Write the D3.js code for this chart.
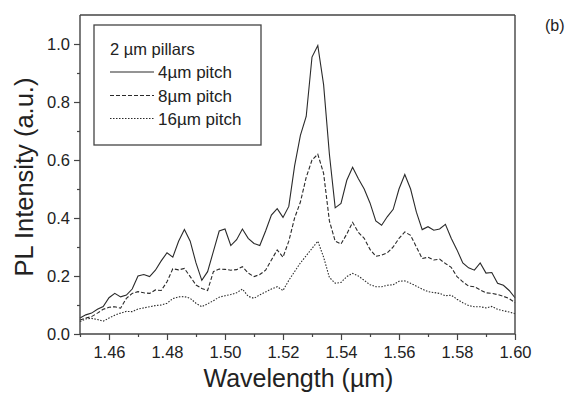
<!DOCTYPE html>
<html>
<head>
<meta charset="utf-8">
<script src="https://cdn.jsdelivr.net/npm/d3@7"></script>
<style>
  html, body { margin: 0; padding: 0; background: #fff; }
  svg { display: block; font-family: "Liberation Sans", Arial, sans-serif; }
</style>
</head>
<body>
<svg id="chart" width="567" height="398"></svg>
<script>
const wavelengths = d3.range(76).map(i => +(1.45 + i * 0.002).toFixed(3));

const pitch4 = [
  0.055, 0.066, 0.072, 0.085, 0.095, 0.125, 0.140, 0.128, 0.134, 0.155,
  0.200, 0.205, 0.198, 0.220, 0.252, 0.280, 0.265, 0.320, 0.360, 0.320,
  0.245, 0.185, 0.215, 0.285, 0.355, 0.362, 0.305, 0.325, 0.362, 0.330,
  0.312, 0.305, 0.355, 0.410, 0.432, 0.402, 0.440, 0.580, 0.685, 0.750,
  0.955, 0.995, 0.860, 0.620, 0.435, 0.450, 0.530, 0.575, 0.535, 0.500,
  0.452, 0.390, 0.375, 0.405, 0.430, 0.500, 0.550, 0.500, 0.420, 0.360,
  0.370, 0.358, 0.362, 0.378, 0.330, 0.290, 0.245, 0.228, 0.220, 0.245,
  0.210, 0.212, 0.175, 0.168, 0.150, 0.125
];

const pitch8 = [
  0.048, 0.055, 0.060, 0.072, 0.085, 0.092, 0.094, 0.089, 0.123, 0.140,
  0.146, 0.142, 0.140, 0.152, 0.150, 0.180, 0.225, 0.221, 0.226, 0.198,
  0.169, 0.157, 0.150, 0.215, 0.224, 0.223, 0.220, 0.222, 0.232, 0.210,
  0.198, 0.205, 0.220, 0.255, 0.290, 0.265, 0.320, 0.400, 0.455, 0.540,
  0.600, 0.620, 0.554, 0.390, 0.320, 0.310, 0.345, 0.385, 0.350, 0.330,
  0.292, 0.268, 0.272, 0.280, 0.300, 0.330, 0.352, 0.340, 0.300, 0.260,
  0.265, 0.255, 0.258, 0.243, 0.230, 0.198, 0.180, 0.165, 0.163, 0.152,
  0.142, 0.140, 0.136, 0.130, 0.122, 0.108
];

const pitch16 = [
  0.043, 0.052, 0.054, 0.050, 0.044, 0.055, 0.065, 0.072, 0.078, 0.077,
  0.086, 0.090, 0.094, 0.098, 0.100, 0.106, 0.122, 0.128, 0.129, 0.123,
  0.106, 0.094, 0.104, 0.115, 0.127, 0.132, 0.136, 0.142, 0.155, 0.130,
  0.123, 0.135, 0.145, 0.155, 0.163, 0.150, 0.185, 0.215, 0.245, 0.270,
  0.295, 0.320, 0.265, 0.195, 0.175, 0.178, 0.198, 0.209, 0.200, 0.185,
  0.170, 0.163, 0.163, 0.168, 0.170, 0.182, 0.183, 0.175, 0.165, 0.155,
  0.146, 0.143, 0.140, 0.132, 0.134, 0.120, 0.108, 0.098, 0.094, 0.094,
  0.090, 0.095, 0.085, 0.080, 0.076, 0.070
];

const seriesNames = ["4\u00B5m pitch", "8\u00B5m pitch", "16\u00B5m pitch"];
const seriesDash = ["none", "4,2", "1.5,1.5"];
const xTicks = [1.46, 1.48, 1.50, 1.52, 1.54, 1.56, 1.58, 1.60];
const xMinorTicks = [1.45, 1.47, 1.49, 1.51, 1.53, 1.55, 1.57, 1.59];
const yTicks = [0.0, 0.2, 0.4, 0.6, 0.8, 1.0];
const yMinorTicks = [0.1, 0.3, 0.5, 0.7, 0.9];

const svg = d3.select("#chart");
const L = 80, R = 515, T = 15, B = 334;
const x = d3.scaleLinear().domain([1.45, 1.60]).range([L, R]);
const y = d3.scaleLinear().domain([0, 1.1]).range([B, T]);
const axisColor = "#444";
const textColor = "#222";

// curves
const series = [pitch4, pitch8, pitch16];
const line = d3.line().x((d, i) => x(wavelengths[i])).y(d => y(d));
series.forEach((s, k) => {
  svg.append("path").datum(s)
    .attr("d", line)
    .attr("fill", "none")
    .attr("stroke", "#2a2a2a")
    .attr("stroke-width", 1.1)
    .attr("stroke-dasharray", seriesDash[k]);
});

// frame top/right
svg.append("line").attr("x1", L).attr("x2", R).attr("y1", T).attr("y2", T)
  .attr("stroke", axisColor).attr("stroke-width", 1.4);
svg.append("line").attr("x1", R).attr("x2", R).attr("y1", T).attr("y2", B)
  .attr("stroke", axisColor).attr("stroke-width", 1.4);

// axes
const xAxis = svg.append("g").attr("transform", `translate(0,${B})`)
  .call(d3.axisBottom(x).tickValues(xTicks).tickFormat(d3.format(".2f")).tickSize(6).tickPadding(6));
const xMinor = svg.append("g").attr("transform", `translate(0,${B})`)
  .call(d3.axisBottom(x).tickValues(xMinorTicks).tickFormat("").tickSize(3).tickSizeOuter(0));
const yAxis = svg.append("g").attr("transform", `translate(${L},0)`)
  .call(d3.axisLeft(y).tickValues(yTicks).tickFormat(d3.format(".1f")).tickSize(6).tickPadding(4));
const yMinor = svg.append("g").attr("transform", `translate(${L},0)`)
  .call(d3.axisLeft(y).tickValues(yMinorTicks).tickFormat("").tickSize(3).tickSizeOuter(0));

[xAxis, xMinor, yAxis, yMinor].forEach(g => {
  g.selectAll("path.domain").attr("stroke", axisColor).attr("stroke-width", 1.4);
  g.selectAll(".tick line").attr("stroke", axisColor).attr("stroke-width", 1.2);
  g.selectAll("text").attr("fill", textColor).attr("font-size", 16.5)
    .attr("font-family", "Liberation Sans, Arial, sans-serif");
});
xMinor.select("path.domain").remove();
yMinor.select("path.domain").remove();
yAxis.select("path.domain").attr("d", `M0,${B}V${T}`);
xAxis.select("path.domain").attr("d", `M${L},0H${R}`);

// axis labels
svg.append("text").attr("x", (L + R) / 2 + 1).attr("y", 387)
  .attr("text-anchor", "middle").attr("font-size", 25).attr("fill", textColor)
  .text("Wavelength (\u00B5m)");
svg.append("text").attr("transform", `translate(33,${177}) rotate(-90)`)
  .attr("text-anchor", "middle").attr("font-size", 25.5).attr("fill", textColor)
  .text("PL Intensity (a.u.)");

// (b)
svg.append("text").attr("x", 545).attr("y", 31).attr("font-size", 16)
  .attr("fill", textColor).text("(b)");

// legend
const lg = svg.append("g");
lg.append("rect").attr("x", 94).attr("y", 25).attr("width", 167).attr("height", 120)
  .attr("fill", "#fff").attr("stroke", axisColor).attr("stroke-width", 1.3);
lg.append("text").attr("x", 110).attr("y", 55).attr("font-size", 16.5)
  .attr("fill", textColor).text("2 \u00B5m pillars");
const legY = [72, 95.5, 118.5];
seriesNames.forEach((n, k) => {
  lg.append("line").attr("x1", 110).attr("x2", 154).attr("y1", legY[k]).attr("y2", legY[k])
    .attr("stroke", "#2a2a2a").attr("stroke-width", 1.1).attr("stroke-dasharray", seriesDash[k]);
  lg.append("text").attr("x", 158).attr("y", legY[k] + 6).attr("font-size", 17)
    .attr("fill", textColor).text(n);
});
</script>
</body>
</html>
